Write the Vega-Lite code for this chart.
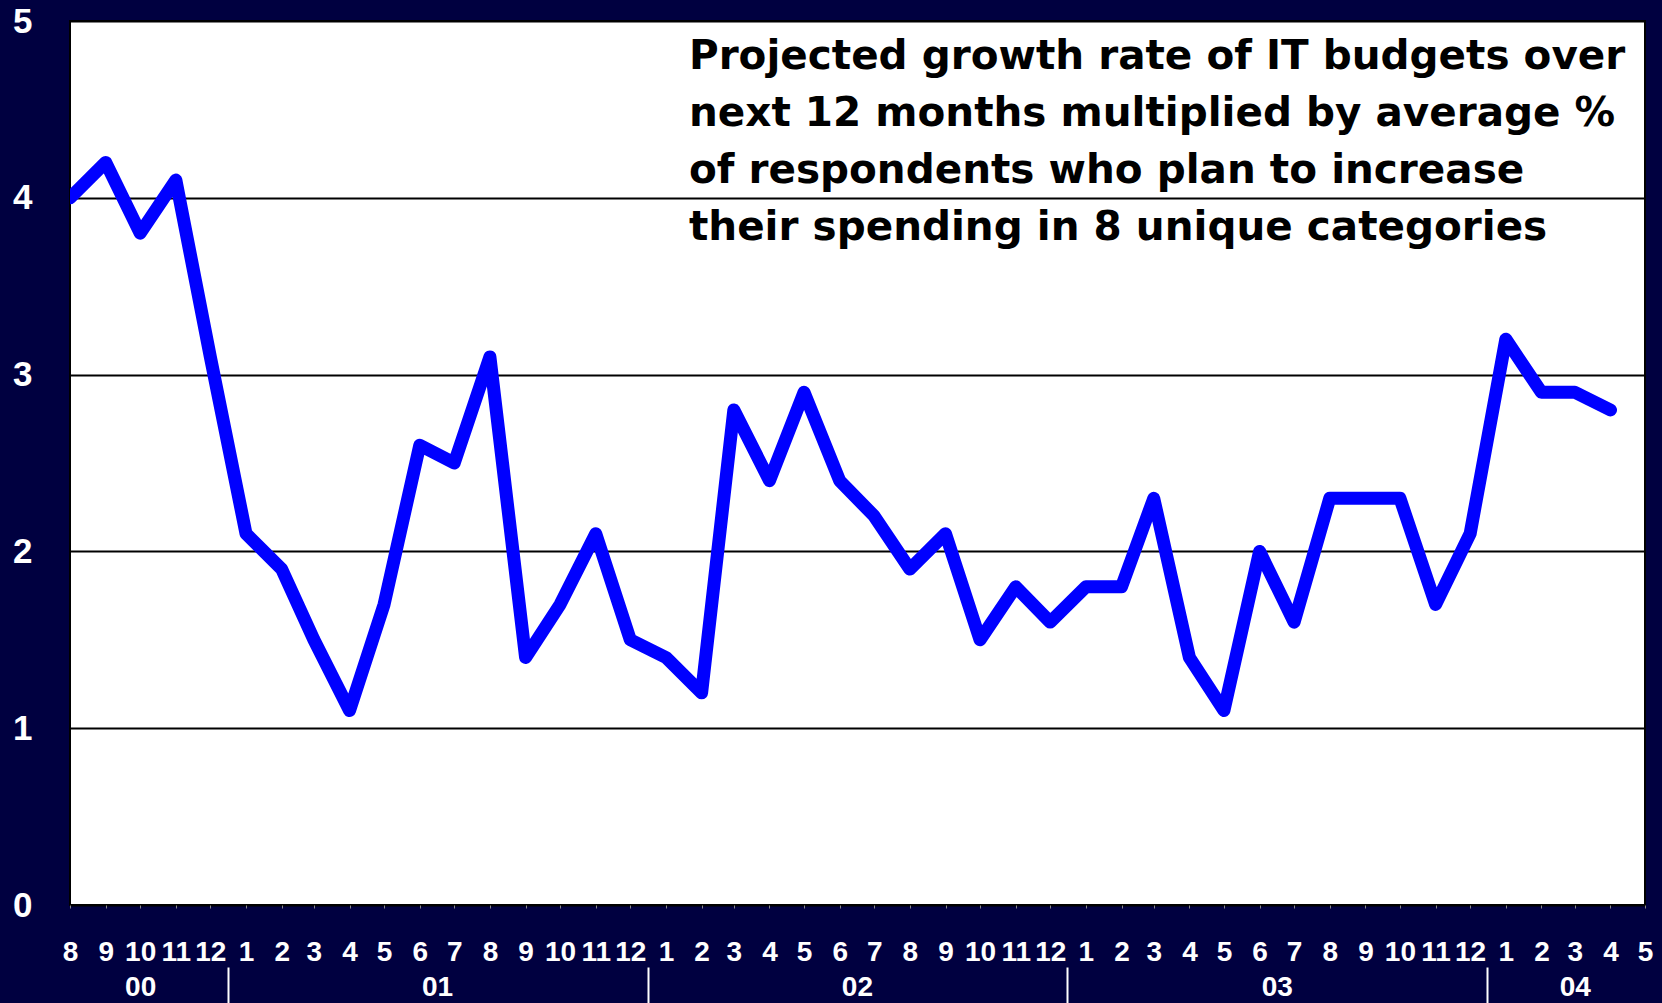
{
  "$schema": "https://vega.github.io/schema/vega-lite/v6.json",
  "width": 1575,
  "height": 884,
  "autosize": "none",
  "padding": {"left": 70, "top": 21, "right": 17, "bottom": 98},
  "background": "#000040",
  "view": {"fill": "white", "stroke": "black", "strokeWidth": 2},
  "config": {"font": "Liberation Sans"},
  "layer": [
    {
      "data": {"values": [
        {"month": "2000-08-01", "value": 4.0},
        {"month": "2000-09-01", "value": 4.2},
        {"month": "2000-10-01", "value": 3.8},
        {"month": "2000-11-01", "value": 4.1},
        {"month": "2000-12-01", "value": 3.1},
        {"month": "2001-01-01", "value": 2.1},
        {"month": "2001-02-01", "value": 1.9},
        {"month": "2001-03-01", "value": 1.5},
        {"month": "2001-04-01", "value": 1.1},
        {"month": "2001-05-01", "value": 1.7},
        {"month": "2001-06-01", "value": 2.6},
        {"month": "2001-07-01", "value": 2.5},
        {"month": "2001-08-01", "value": 3.1},
        {"month": "2001-09-01", "value": 1.4},
        {"month": "2001-10-01", "value": 1.7},
        {"month": "2001-11-01", "value": 2.1},
        {"month": "2001-12-01", "value": 1.5},
        {"month": "2002-01-01", "value": 1.4},
        {"month": "2002-02-01", "value": 1.2},
        {"month": "2002-03-01", "value": 2.8},
        {"month": "2002-04-01", "value": 2.4},
        {"month": "2002-05-01", "value": 2.9},
        {"month": "2002-06-01", "value": 2.4},
        {"month": "2002-07-01", "value": 2.2},
        {"month": "2002-08-01", "value": 1.9},
        {"month": "2002-09-01", "value": 2.1},
        {"month": "2002-10-01", "value": 1.5},
        {"month": "2002-11-01", "value": 1.8},
        {"month": "2002-12-01", "value": 1.6},
        {"month": "2003-01-01", "value": 1.8},
        {"month": "2003-02-01", "value": 1.8},
        {"month": "2003-03-01", "value": 2.3},
        {"month": "2003-04-01", "value": 1.4},
        {"month": "2003-05-01", "value": 1.1},
        {"month": "2003-06-01", "value": 2.0},
        {"month": "2003-07-01", "value": 1.6},
        {"month": "2003-08-01", "value": 2.3},
        {"month": "2003-09-01", "value": 2.3},
        {"month": "2003-10-01", "value": 2.3},
        {"month": "2003-11-01", "value": 1.7},
        {"month": "2003-12-01", "value": 2.1},
        {"month": "2004-01-01", "value": 3.2},
        {"month": "2004-02-01", "value": 2.9},
        {"month": "2004-03-01", "value": 2.9},
        {"month": "2004-04-01", "value": 2.8}
      ]},
      "mark": {"type": "line", "color": "#0000FF", "strokeWidth": 13, "strokeCap": "round", "strokeJoin": "round", "clip": true},
      "encoding": {
        "x": {
          "field": "month", "type": "temporal",
          "scale": {"type": "utc", "domain": [{"year": 2000, "month": 8, "date": 1, "utc": true}, {"year": 2004, "month": 5, "date": 1, "utc": true}]},
          "axis": {
            "orient": "bottom",
            "title": null, "grid": false, "domain": false,
            "tickCount": {"interval": "month", "step": 1},
            "ticks": true, "tickSize": 3, "tickColor": "#888888",
            "labelExpr": "utcFormat(datum.value, '%-m')",
            "labelColor": "white", "labelFontSize": 28, "labelFontWeight": "bold",
            "labelPadding": 30, "labelOverlap": false, "labelBound": false, "labelFlush": false
          }
        },
        "y": {
          "field": "value", "type": "quantitative",
          "scale": {"domain": [0, 5], "nice": false},
          "axis": {
            "title": null, "values": [0, 1, 2, 3, 4, 5], "format": "d",
            "grid": true, "gridColor": "black", "gridWidth": 2, "gridOpacity": 1,
            "domain": false, "ticks": false,
            "labelColor": "white", "labelFontSize": 35, "labelFontWeight": "bold",
            "labelPadding": 38, "labelBaseline": "middle", "labelOverlap": false, "labelBound": false, "labelFlush": false
          }
        }
      }
    },
    {
      "data": {"values": [
        {"month": "2002-01-21", "value": 4.73, "label": ["Projected growth rate of IT budgets over", "next 12 months multiplied by average %", "of respondents who plan to increase", "their spending in 8 unique categories"]}
      ]},
      "mark": {"type": "text", "align": "left", "baseline": "alphabetic", "font": "DejaVu Sans", "fontSize": 40.5, "fontWeight": "bold", "lineHeight": 57, "color": "black"},
      "encoding": {
        "x": {
          "field": "month", "type": "temporal",
          "axis": {
            "orient": "bottom",
            "title": null, "grid": false, "domain": false,
            "values": [
              {"year": 2000, "month": 10, "date": 1, "utc": true},
              {"year": 2000, "month": 12, "date": 16, "utc": true},
              {"year": 2001, "month": 6, "date": 16, "utc": true},
              {"year": 2001, "month": 12, "date": 16, "utc": true},
              {"year": 2002, "month": 6, "date": 16, "utc": true},
              {"year": 2002, "month": 12, "date": 16, "utc": true},
              {"year": 2003, "month": 6, "date": 16, "utc": true},
              {"year": 2003, "month": 12, "date": 16, "utc": true},
              {"year": 2004, "month": 3, "date": 1, "utc": true}
            ],
            "offset": 62,
            "ticks": true, "tickSize": 36, "tickWidth": 2, "tickColor": "white",
            "tickOpacity": {"condition": {"test": "utcmonth(datum.value) == 11", "value": 1}, "value": 0},
            "labelExpr": "utcmonth(datum.value) == 11 ? '' : utcFormat(datum.value, '%y')",
            "labelColor": "white", "labelFontSize": 28, "labelFontWeight": "bold",
            "labelPadding": -30, "labelOverlap": false, "labelBound": false, "labelFlush": false
          }
        },
        "y": {"field": "value", "type": "quantitative"},
        "text": {"field": "label"}
      }
    }
  ],
  "resolve": {"axis": {"x": "independent"}}
}
